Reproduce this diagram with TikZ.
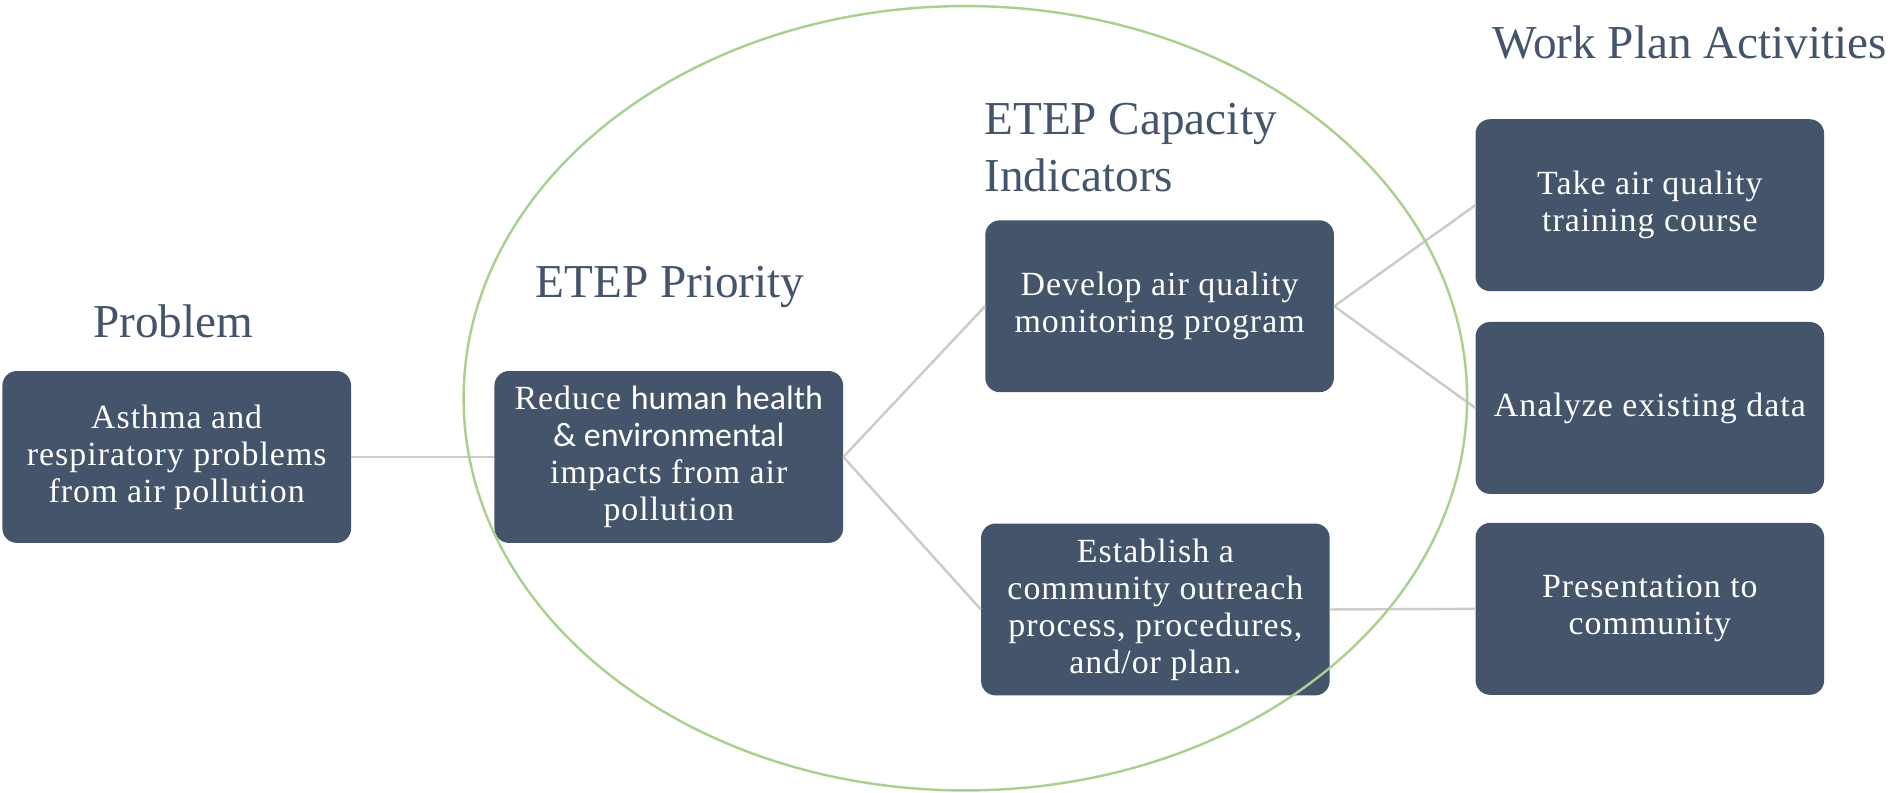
\documentclass[tikz,border=0pt]{standalone}
\usepackage{fontspec}
\setmainfont{Liberation Serif}
\newfontfamily\boxfont[LetterSpace=3]{Liberation Serif}
\newfontfamily\boxsans{Carlito}
\definecolor{boxfill}{HTML}{44546A}
\definecolor{titlecol}{HTML}{44546A}
\definecolor{linkcol}{RGB}{205,203,196}
\definecolor{ringcol}{HTML}{A9D18E}
\begin{document}
\begin{tikzpicture}[x=1pt,y=-1pt,
  box/.style={rectangle, rounded corners=12pt, fill=boxfill, minimum width=288pt,
    minimum height=142pt, text=white, align=center, inner sep=0pt,
    font=\boxfont\fontsize{28}{30.5}\selectfont},
  title/.style={text=titlecol, inner sep=0pt, font=\fontsize{39}{47}\selectfont},
  link/.style={draw=linkcol, line width=2pt},
  ring/.style={draw=ringcol, line width=2pt}
]
\useasboundingbox (0,0) rectangle (1568,654.3);
\fill[white] (0,0) rectangle (1568,654.3);

% titles
\node[title, anchor=base] (tprob) at (143,279) {Problem};
\node[title, anchor=base] (tprio) at (553.5,246) {ETEP Priority};
\node[title, anchor=base west] (tcap) at (813,111.5) {\parbox[t]{320pt}{\raggedright ETEP Capacity\\Indicators}};
\node[title, anchor=base] (twork) at (1396,48) {Work Plan Activities};

% boxes
\node[box] (prob) at (146,377.5) {Asthma and\\respiratory problems\\from air pollution};
\node[box] (prio) at (552.5,377.5) {Reduce {\boxsans human health}\\{\boxsans \& environmental}\\impacts from air\\pollution};
\node[box] (dev) at (958,253) {Develop air quality\\monitoring program};
\node[box] (est) at (954.5,503.5) {Establish a\\community outreach\\process, procedures,\\and/or plan.};
\node[box] (take) at (1363,169.5) {Take air quality\\training course};
\node[box] (ana) at (1363,337) {Analyze existing data};
\node[box] (pres) at (1363,503) {Presentation to\\community};

% connectors
\draw[link] (prob.east) -- (prio.west);
\draw[link] (prio.east) -- (dev.west);
\draw[link] (prio.east) -- (est.west);
\draw[link] (dev.east) -- (take.west);
\draw[link] (dev.east) -- (ana.west);
\draw[link] (est.east) -- (pres.west);

% ring
\draw[ring] (797.5,329) ellipse [x radius=414.5, y radius=324];
\end{tikzpicture}
\end{document}
